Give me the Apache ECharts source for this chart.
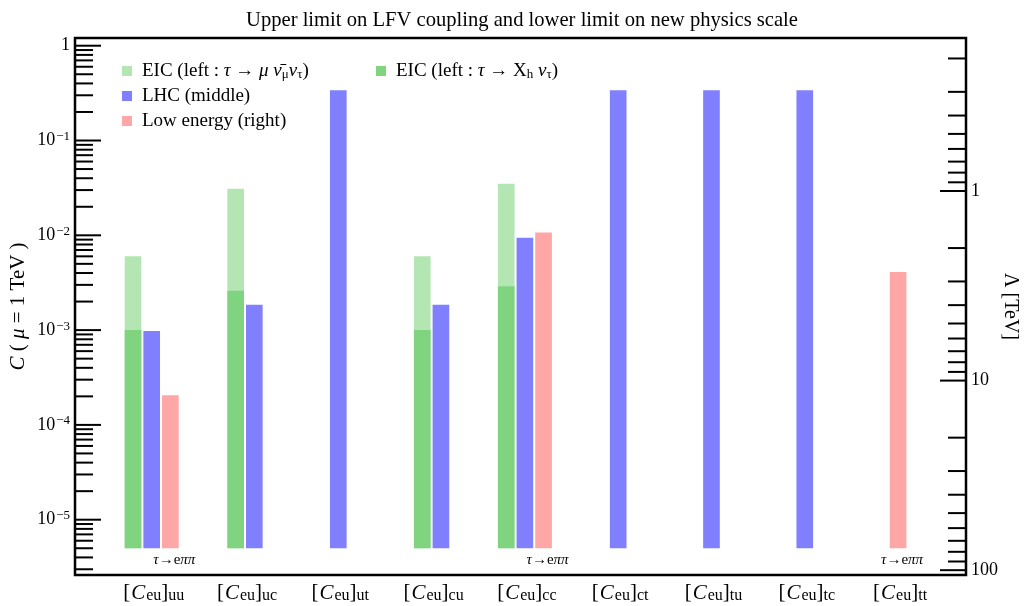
<!DOCTYPE html>
<html>
<head>
<meta charset="utf-8">
<script src="https://cdn.jsdelivr.net/npm/echarts@6/dist/echarts.min.js"></script>
<style>
  html, body { margin: 0; padding: 0; background: #fff; }
  #chart { width: 1025px; height: 606px; }
</style>
</head>
<body>
<div id="chart"></div>
<script>
// Operator flavour indices, one per group of bars
const categories = ['uu', 'uc', 'ut', 'cu', 'cc', 'ct', 'tu', 'tc', 'tt'];

// Upper limits on the coupling C(mu = 1 TeV); null = no bound shown
const eicLeptonic = [6.0e-3, 3.1e-2, null, 6.0e-3, 3.5e-2, null, null, null, null];
const eicHadronic = [1.0e-3, 2.6e-3, null, 1.0e-3, 2.9e-3, null, null, null, null];
const lhcLimits   = [9.8e-4, 1.85e-3, 0.34, 1.85e-3, 9.4e-3, 0.34, 0.34, 0.34, null];
const lowEnergy   = [2.05e-4, null, null, null, 1.07e-2, null, null, null, 4.1e-3];
const lowEnergyNotes = ['τ→eππ', '', '', '', 'τ→eππ', '', '', '', 'τ→eππ'];

// Tick labels
const leftMajorTicks = [1e-5, 1e-4, 1e-3, 1e-2, 1e-1, 1];
const rightMajorTicks = [1, 10, 100];

// Axis ranges and bar geometry
const C_MIN = 2.61e-6, C_MAX = 1.206;
const BAR_BASE = 5e-6;
const LAMBDA_SCALE = 0.1713;          // Lambda [TeV] = LAMBDA_SCALE / sqrt(C)
const X_MIN = -0.822, X_MAX = 8.728;
const SLOT = 0.2;

const COLORS = {
  eicLeptonic: '#b3e6b3',
  eicHadronic: '#80d480',
  lhc: '#8080ff',
  low: '#ffa6a6'
};
const SERIF = '"Liberation Serif", "DejaVu Serif", serif';

const NAMES = {
  eicLeptonic: 'EIC leptonic',
  eicHadronic: 'EIC hadronic',
  lhc: 'LHC (middle)',
  low: 'Low energy (right)'
};
const LEGEND_TEXT = {
  [NAMES.eicLeptonic]: 'EIC (left : {g|τ} → {g|μ} {g|ν̄}{sub|μ}{g|ν}{sub|τ})',
  [NAMES.eicHadronic]: 'EIC (left : {g|τ} → X{sub|h} {g|ν}{sub|τ})',
  [NAMES.lhc]: 'LHC (middle)',
  [NAMES.low]: 'Low energy (right)'
};

// Horizontal offset of a bar inside its group: slots are green, blue, pink,
// and only the slots that carry a value are laid out, centred on the category.
function slotOffset(slot, i) {
  const present = [
    eicLeptonic[i] != null || eicHadronic[i] != null,
    lhcLimits[i] != null,
    lowEnergy[i] != null
  ];
  const used = [];
  present.forEach((p, k) => { if (p) used.push(k); });
  const pos = used.indexOf(slot);
  return (pos - (used.length - 1) / 2) * SLOT;
}

function barSeries(name, values, slot, color, z, notes) {
  return {
    type: 'custom',
    name: name,
    z: z,
    xAxisIndex: 0,
    yAxisIndex: 0,
    itemStyle: { color: color },
    data: values.map((v, i) => (v == null ? null : [i, v])).filter(Boolean),
    renderItem: function (params, api) {
      const i = api.value(0);
      const v = api.value(1);
      const xc = i + slotOffset(slot, i);
      const top = api.coord([xc, v]);
      const bottom = api.coord([xc, BAR_BASE]);
      const left = api.coord([xc - SLOT / 2, v])[0];
      const right = api.coord([xc + SLOT / 2, v])[0];
      const w = right - left - 2;
      const children = [{
        type: 'rect',
        shape: { x: top[0] - w / 2, y: top[1], width: w, height: bottom[1] - top[1] },
        style: { fill: color }
      }];
      if (notes && notes[i]) {
        children.push({
          type: 'text',
          x: top[0] + 4,
          y: bottom[1] + 12,
          style: {
            text: notes[i].replace(/([τπ]+)/g, '{g|$1}'),
            fill: '#000',
            font: '15px ' + SERIF,
            align: 'center',
            verticalAlign: 'middle',
            rich: { g: { fontStyle: 'italic', fontSize: 15, fontFamily: SERIF } }
          }
        });
      }
      return { type: 'group', children: children };
    }
  };
}

// Log-axis tick marks (major and 2..9 minor), drawn inward from a spine
function minorTicks(lo, hi) {
  const out = [];
  for (let e = Math.floor(Math.log10(lo)); e <= Math.ceil(Math.log10(hi)); e++) {
    for (let k = 2; k <= 9; k++) {
      const v = k * Math.pow(10, e);
      if (v > lo && v < hi) out.push(v);
    }
  }
  return out;
}

function tickSeries(yAxisIndex, majors, minors, side) {
  return {
    type: 'custom',
    silent: true,
    xAxisIndex: 0,
    yAxisIndex: yAxisIndex,
    z: 5,
    data: majors.map(v => [0, v, 1]).concat(minors.map(v => [0, v, 0])),
    renderItem: function (params, api) {
      const cs = params.coordSys;
      const y = api.coord([0, api.value(1)])[1];
      const len = api.value(2) ? 26 : 18;
      const x0 = side === 'left' ? cs.x : cs.x + cs.width;
      const x1 = side === 'left' ? x0 + len : x0 - len;
      return {
        type: 'line',
        shape: { x1: x0, y1: y, x2: x1, y2: y },
        style: { stroke: '#000', lineWidth: 2 }
      };
    }
  };
}

function isPow10(v) {
  const l = Math.log10(v);
  return Math.abs(l - Math.round(l)) < 1e-6;
}

const LAMBDA_TOP = LAMBDA_SCALE / Math.sqrt(C_MAX);
const LAMBDA_BOTTOM = LAMBDA_SCALE / Math.sqrt(C_MIN);

const chart = echarts.init(document.getElementById('chart'));

const legendTextStyle = {
  fontSize: 19,
  fontFamily: SERIF,
  color: '#000',
  lineHeight: 20,
  padding: [0, 0, 0, 5],
  rich: {
    g: { fontStyle: 'italic', fontSize: 19, fontFamily: SERIF, lineHeight: 20 },
    sub: { fontSize: 13, fontFamily: SERIF, lineHeight: 12, verticalAlign: 'bottom' }
  }
};

chart.setOption({
  animation: false,
  backgroundColor: '#fff',
  title: {
    text: 'Upper limit on LFV coupling and lower limit on new physics scale',
    left: 517,
    textAlign: 'center',
    top: 5,
    textStyle: { fontSize: 20.6, fontWeight: 'normal', fontFamily: SERIF, color: '#000' }
  },
  legend: [
    {
      data: [NAMES.eicLeptonic, NAMES.lhc, NAMES.low],
      orient: 'vertical',
      left: 117,
      top: 56,
      itemGap: 5,
      itemWidth: 10,
      itemHeight: 10,
      icon: 'rect',
      selectedMode: false,
      formatter: n => LEGEND_TEXT[n],
      textStyle: legendTextStyle
    },
    {
      data: [NAMES.eicHadronic],
      orient: 'vertical',
      left: 371,
      top: 56,
      itemWidth: 10,
      itemHeight: 10,
      icon: 'rect',
      selectedMode: false,
      formatter: n => LEGEND_TEXT[n],
      textStyle: legendTextStyle
    }
  ],
  grid: {
    left: 75, right: 59, top: 38, bottom: 31,
    containLabel: false,
    outerBoundsMode: 'none',
    show: true,
    borderColor: '#000',
    borderWidth: 2.5,
    backgroundColor: 'transparent'
  },
  xAxis: {
    type: 'value',
    min: X_MIN,
    max: X_MAX,
    axisLine: { show: false },
    axisTick: { show: false },
    splitLine: { show: false },
    axisLabel: {
      customValues: categories.map((c, i) => i),
      margin: 6,
      padding: [0, 0, 0, 4],
      color: '#000',
      fontFamily: SERIF,
      fontSize: 21,
      lineHeight: 23,
      formatter: v => '[{c|C}{s|eu}]{s|' + categories[Math.round(v)] + '}',
      rich: {
        c: { fontStyle: 'italic', fontSize: 21, fontFamily: SERIF, lineHeight: 23, verticalAlign: 'bottom', padding: [0, 1, 0, 1] },
        s: { fontSize: 16, fontFamily: SERIF, lineHeight: 16, verticalAlign: 'bottom' }
      }
    }
  },
  yAxis: [
    {
      type: 'log',
      logBase: 10,
      min: C_MIN,
      max: C_MAX,
      position: 'left',
      axisLine: { show: false },
      axisTick: { show: false },
      splitLine: { show: false },
      axisLabel: {
        showMinLabel: false,
        showMaxLabel: false,
        margin: 5,
        color: '#000',
        fontFamily: SERIF,
        fontSize: 18,
        formatter: function (v) {
          if (!isPow10(v)) return '';
          const e = Math.round(Math.log10(v));
          if (e === 0) return '{b|1}';
          return '{b|10}{sup|−' + (-e) + '}';
        },
        rich: {
          b: { fontSize: 18, fontFamily: SERIF, lineHeight: 18 },
          sup: { fontSize: 13, fontFamily: SERIF, lineHeight: 13, padding: [0, 0, 8, 1] }
        }
      },
      name: '{i|C} ( {i|μ} = 1 TeV )',
      nameLocation: 'middle',
      nameGap: 46,
      nameMoveOverlap: false,
      nameTextStyle: {
        fontSize: 21,
        fontFamily: SERIF,
        color: '#000',
        rich: { i: { fontStyle: 'italic', fontSize: 21, fontFamily: SERIF } }
      }
    },
    {
      type: 'log',
      logBase: 10,
      inverse: true,
      min: LAMBDA_TOP,
      max: LAMBDA_BOTTOM,
      position: 'right',
      axisLine: { show: false },
      axisTick: { show: false },
      splitLine: { show: false },
      axisLabel: {
        showMinLabel: false,
        showMaxLabel: false,
        margin: 5,
        color: '#000',
        fontFamily: SERIF,
        fontSize: 18,
        formatter: v => (isPow10(v) ? String(Math.round(v)) : '')
      },
      name: 'Λ [TeV]',
      nameLocation: 'middle',
      nameGap: 34,
      nameMoveOverlap: false,
      nameRotate: -90,
      nameTextStyle: { fontSize: 20, fontFamily: SERIF, color: '#000' }
    }
  ],
  series: [
    barSeries(NAMES.eicLeptonic, eicLeptonic, 0, COLORS.eicLeptonic, 2),
    barSeries(NAMES.eicHadronic, eicHadronic, 0, COLORS.eicHadronic, 3),
    barSeries(NAMES.lhc, lhcLimits, 1, COLORS.lhc, 2),
    barSeries(NAMES.low, lowEnergy, 2, COLORS.low, 2, lowEnergyNotes),
    tickSeries(0, leftMajorTicks, minorTicks(C_MIN, C_MAX), 'left'),
    tickSeries(1, rightMajorTicks, minorTicks(LAMBDA_TOP, LAMBDA_BOTTOM), 'right')
  ]
});
</script>
</body>
</html>
